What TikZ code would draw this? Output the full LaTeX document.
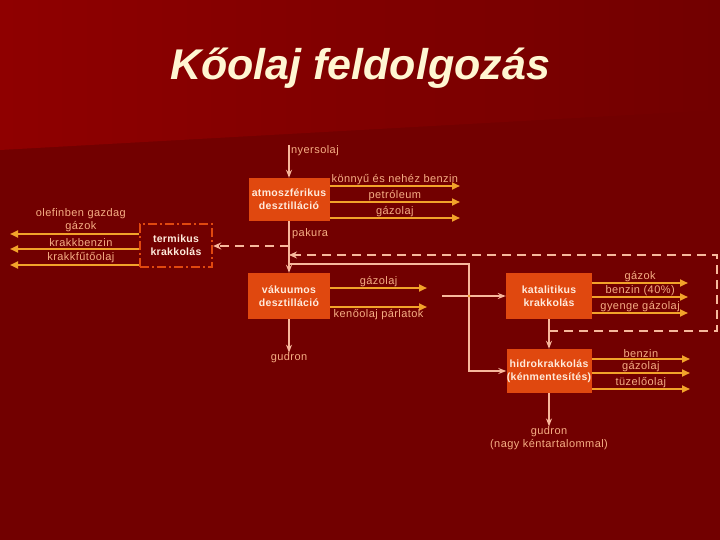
\documentclass[tikz,border=0pt]{standalone}
\usepackage{fontspec}
\setmainfont{Liberation Sans}
\newfontfamily\lblfont[LetterSpace=4]{Liberation Sans}
\newfontfamily\boxfont[LetterSpace=3]{Liberation Sans}
\usetikzlibrary{arrows.meta}
\definecolor{bgdark}{HTML}{720000}
\definecolor{bgtop}{HTML}{8F0000}
\definecolor{boxfill}{HTML}{E0480F}
\definecolor{prodcol}{HTML}{F2A32A}
\definecolor{conncol}{HTML}{F7B89C}
\definecolor{lblcol}{HTML}{F6AE84}
\definecolor{titlecol}{HTML}{FFF6D2}
\definecolor{boxtxt}{HTML}{FFEBDC}
\begin{document}
\begin{tikzpicture}[x=1pt,y=-1pt,
  box/.style={fill=boxfill,text=boxtxt,align=center,inner sep=0pt,
    font=\boxfont\bfseries\fontsize{10.5}{13}\selectfont},
  tkbox/.style={draw=boxfill,line width=2.4pt,dash pattern=on 9pt off 3pt on 2pt off 3pt,
    text=boxtxt,align=center,inner sep=0pt,font=\boxfont\bfseries\fontsize{10.5}{13}\selectfont,
    minimum width=72pt,minimum height=43pt},
  lbl/.style={text=lblcol,align=center,inner sep=0pt,font=\lblfont\fontsize{11}{12.5}\selectfont},
  prod/.style={draw=prodcol,line width=2.8pt,-{Triangle[length=8pt,width=7pt]}},
  conn/.style={draw=conncol,line width=1.8pt,-{Stealth[length=8pt,width=6pt]}},
  dashln/.style={draw=conncol,line width=2.8pt,dash pattern=on 9pt off 6pt}]
\useasboundingbox (0,0) rectangle (720,540);
% background
\fill[bgdark] (0,0) rectangle (720,540);
\shade[left color=bgtop,right color=bgdark] (0,0) -- (720,0) -- (720,110) -- (0,150) -- cycle;
\node[font=\bfseries\itshape\fontsize{43}{50}\selectfont,text=titlecol] (ttl) at (360,68) {Kőolaj feldolgozás};

% units
\node[box,minimum width=81pt,minimum height=43pt] (atm) at (289,199.5) {atmoszférikus\\desztilláció};
\node[box,minimum width=82pt,minimum height=46pt] (vak) at (289,296) {vákuumos\\desztilláció};
\node[box,minimum width=86pt,minimum height=46pt] (kat) at (549,296) {katalitikus\\krakkolás};
\node[box,minimum width=85pt,minimum height=44pt] (hid) at (549,371) {hidrokrakkolás\\(kénmentesítés)};
\node[tkbox] (term) at (176,245.5) {termikus\\krakkolás};

% main line
\coordinate (ny) at (289,145);
\draw[conn] (ny) -- (atm.north);
\node[lbl,anchor=west] (nyl) at (291,151) {nyersolaj};
\draw[conn] (atm.south) -- (vak.north);
\node[lbl,anchor=west] (pkl) at (292,234) {pakura};
\node[lbl] (gd1) at (289,358) {gudron};
\draw[conn] (vak.south) -- (gd1.north);
\draw[conn] (kat.south) -- (hid.north);
\node[lbl] (gd2) at (549,438) {gudron\\(nagy kéntartalommal)};
\draw[conn] (hid.south) -- (gd2.north);

% recycle and feed lines
\coordinate (pk) at (289,246);
\draw[dashln,-{Stealth[length=8pt,width=7pt]}] (pk) -- (term.east|-pk);
\coordinate (rc1) at (717,331);
\coordinate (rc2) at (717,255);
\draw[dashln,-{Stealth[length=8pt,width=7pt]}] (kat.south|-rc1) -- (rc1) -- (rc2) -- (vak.north|-rc2);
\coordinate (bp) at (469,264);
\draw[conn] (vak.north|-bp) -- (bp) |- (hid.west);
\coordinate (kin) at (442,296);
\draw[conn] (kin) -- (kat.west);
\fill[prodcol] (bp|-kin) circle (1.5pt);

% products
\foreach \y/\t [count=\i] in {186/{könnyű és nehéz benzin},202/petróleum,218/gázolaj}{
  \coordinate (ae\i) at (460,\y);
  \draw[prod] (atm.east|-ae\i) -- (ae\i) node[lbl,midway,above] (al\i) {\t};
}
\foreach \y/\t [count=\i] in {234/{olefinben gazdag\\gázok},249/krakkbenzin,265/krakkfűtőolaj}{
  \coordinate (te\i) at (10,\y);
  \draw[prod] (term.west|-te\i) -- (te\i) node[lbl,pos=0.45,above=1pt] (tl\i) {\t};
}
\coordinate (ve1) at (427,288);
\coordinate (ve2) at (427,307);
\draw[prod] (vak.east|-ve1) -- (ve1) node[lbl,midway,above] (vl1) {gázolaj};
\draw[prod] (vak.east|-ve2) -- (ve2) node[lbl,midway,below=1pt] (vl2) {kenőolaj párlatok};
\foreach \y/\t [count=\i] in {283/gázok,297/benzin (40\%),313/gyenge gázolaj}{
  \coordinate (ke\i) at (688,\y);
  \draw[prod] (kat.east|-ke\i) -- (ke\i) node[lbl,midway,above] (kl\i) {\t};
}
\foreach \y/\t [count=\i] in {359/benzin,373/gázolaj,389/tüzelőolaj}{
  \coordinate (he\i) at (690,\y);
  \draw[prod] (hid.east|-he\i) -- (he\i) node[lbl,midway,above] (hl\i) {\t};
}
\end{tikzpicture}
\end{document}
